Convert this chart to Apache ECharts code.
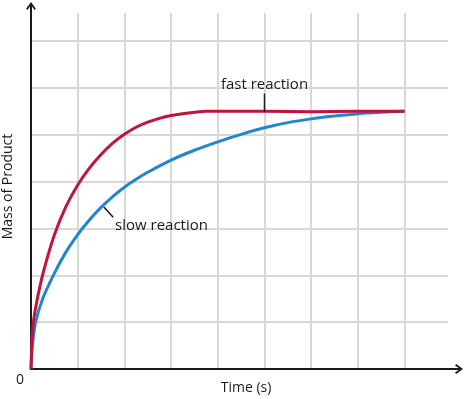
<!DOCTYPE html>
<html>
<head>
<meta charset="utf-8">
<script src="https://cdn.jsdelivr.net/npm/echarts@6/dist/echarts.min.js"></script>
<style>
  html, body { margin: 0; padding: 0; background: #fff; }
  #chart { width: 465px; height: 399px; }
</style>
</head>
<body>
<div id="chart"></div>
<script>
// values (time and mass in grid units)
const fastTime = [0, 0.02, 0.05, 0.12, 0.26, 0.5, 0.75, 1.0, 1.25, 1.5, 1.75, 2.0, 2.25, 2.5, 2.75, 3.0, 3.25, 3.5, 3.75, 4.0, 5.0, 6.0, 7.0, 8.0];
const fastMass = [0, 0.6, 1.0, 1.42, 2.05, 2.86, 3.47, 3.93, 4.29, 4.58, 4.82, 5.01, 5.16, 5.27, 5.35, 5.41, 5.45, 5.48, 5.5, 5.5, 5.5, 5.49, 5.5, 5.5];
const slowTime = [0, 0.03, 0.1, 0.25, 0.5, 0.75, 1.0, 1.25, 1.5, 1.75, 2.0, 2.25, 2.5, 3.0, 3.5, 4.0, 4.5, 5.0, 5.5, 6.0, 6.5, 7.0, 7.5, 8.0];
const slowMass = [0, 0.5, 1.0, 1.5, 2.04, 2.5, 2.87, 3.18, 3.45, 3.68, 3.88, 4.05, 4.2, 4.46, 4.67, 4.85, 5.01, 5.15, 5.26, 5.34, 5.4, 5.45, 5.48, 5.5];

// annotation anchors in data units
const fastLeader = [[5.0, 5.49], [5.0, 5.88]];
const slowLeader = [[1.56, 3.46], [1.76, 3.24]];
const slowLabelAt = [1.8, 3.05];

const RED = '#c3133b';
const BLUE = '#1f86d0';
const INK = '#1a1a1a';
const FONT = '"Open Sans", "DejaVu Sans", sans-serif';
const chevron = 'path://M5,0 L10,7 L8.6,8.2 L5,3 L1.4,8.2 L0,7 Z';

const zip = (xs, ys) => xs.map((x, i) => [x, ys[i]]);

const chart = echarts.init(document.getElementById('chart'), null, { renderer: 'canvas' });

const gridLine = { show: true, showMinLine: false, showMaxLine: false, lineStyle: { color: '#d8d8d8', width: 2 } };

chart.setOption({
  animation: false,
  backgroundColor: '#fff',
  grid: [
    { left: 31, right: 17, top: 13, bottom: 30, outerBoundsMode: 'none' },
    { left: 31, right: 4, top: 4, bottom: 30, outerBoundsMode: 'none' }
  ],
  xAxis: [
    { gridIndex: 0, type: 'value', min: 0, max: 8.93, interval: 1,
      axisLine: { show: false }, axisTick: { show: false }, axisLabel: { show: false },
      splitLine: gridLine },
    { gridIndex: 1, type: 'value', min: 0, max: 1,
      axisLine: { show: true, symbol: ['none', chevron], symbolSize: [11, 8], symbolOffset: [0, -2],
        lineStyle: { color: INK, width: 2 } },
      axisTick: { show: false }, axisLabel: { show: false }, splitLine: { show: false },
      name: 'Time (s)', nameLocation: 'middle', nameGap: 12,
      nameTextStyle: { color: INK, fontFamily: FONT, fontSize: 14 } }
  ],
  yAxis: [
    { gridIndex: 0, type: 'value', min: 0, max: 7.6, interval: 1,
      axisLine: { show: false }, axisTick: { show: false }, axisLabel: { show: false },
      splitLine: gridLine },
    { gridIndex: 1, type: 'value', min: 0, max: 1,
      axisLine: { show: true, symbol: ['none', chevron], symbolSize: [11, 8], symbolOffset: [0, -2],
        lineStyle: { color: INK, width: 2 } },
      axisTick: { show: false }, axisLabel: { show: false }, splitLine: { show: false },
      name: 'Mass of Product', nameLocation: 'middle', nameGap: 16, nameRotate: 90,
      nameTextStyle: { color: INK, fontFamily: FONT, fontSize: 14 } }
  ],
  series: [
    { name: 'slow reaction', type: 'line', xAxisIndex: 0, yAxisIndex: 0,
      data: zip(slowTime, slowMass), smooth: 0.3, showSymbol: false,
      lineStyle: { color: BLUE, width: 3 }, z: 3 },
    { name: 'fast reaction', type: 'line', xAxisIndex: 0, yAxisIndex: 0,
      data: zip(fastTime, fastMass), smooth: 0.3, showSymbol: false,
      lineStyle: { color: RED, width: 3 }, z: 4 }
  ]
});

// annotations placed through the grid's own scale
const px = p => chart.convertToPixel({ gridIndex: 0 }, p);
const fa = px(fastLeader[0]), fb = px(fastLeader[1]);
const sa = px(slowLeader[0]), sb = px(slowLeader[1]);
const sl = px(slowLabelAt);
const o = px([0, 0]);
const textStyle = { fill: INK, font: '15px ' + FONT };

chart.setOption({
  graphic: [
    { type: 'line', shape: { x1: fa[0], y1: fa[1], x2: fb[0], y2: fb[1] }, style: { stroke: INK, lineWidth: 1.5 }, z: 10 },
    { type: 'text', x: fb[0], y: fb[1] - 1, style: Object.assign({ text: 'fast reaction', textAlign: 'center', textVerticalAlign: 'bottom' }, textStyle), z: 10 },
    { type: 'line', shape: { x1: sa[0], y1: sa[1], x2: sb[0], y2: sb[1] }, style: { stroke: INK, lineWidth: 1.5 }, z: 10 },
    { type: 'text', x: sl[0], y: sl[1], style: Object.assign({ text: 'slow reaction', textAlign: 'left', textVerticalAlign: 'middle' }, textStyle), z: 10 },
    { type: 'text', x: o[0] - 11, y: o[1] + 11, style: { text: '0', fill: INK, font: '14px ' + FONT, textAlign: 'center', textVerticalAlign: 'middle' }, z: 10 }
  ]
});
</script>
</body>
</html>
